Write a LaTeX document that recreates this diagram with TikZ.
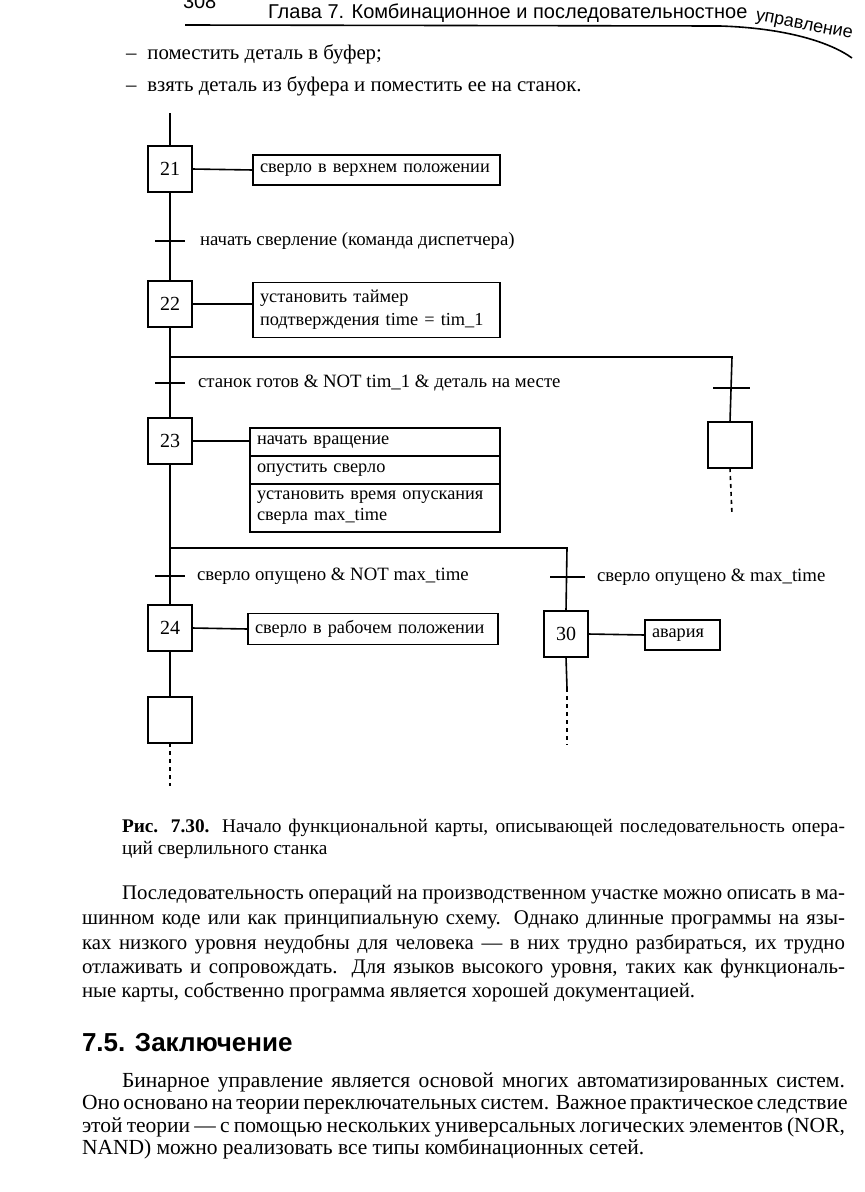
\documentclass[tikz,border=0pt]{standalone}
\usepackage{fontspec}
\setmainfont{Liberation Serif}
\setsansfont{Liberation Sans}
\begin{document}
\begin{tikzpicture}[x=1pt,y=-1pt,
  every node/.style={inner sep=0pt,outer sep=0pt},
  lw/.style={line width=1.6pt},
  stepbox/.style={draw,line width=1.6pt,minimum width=44pt,minimum height=46pt,font=\fontsize{20}{22}\selectfont},
  actbox/.style={draw,line width=1.6pt,anchor=west,inner xsep=7pt,inner ysep=3pt,align=left,font=\fontsize{18.3}{23}\selectfont},
  lbl/.style={anchor=west,font=\fontsize{18.8}{22}\selectfont},
  txt/.style={anchor=base west,font=\fontsize{20.8}{24}\selectfont},
  txtb/.style={anchor=base west,font=\fontsize{21.5}{24}\selectfont},
  captxt/.style={anchor=base west,font=\fontsize{19.3}{21}\selectfont},
  dots/.style={line width=1.6pt,dash pattern=on 4pt off 4pt}
]
\fill[white] (0,0) rectangle (865,1192);
\useasboundingbox (0,0) rectangle (865,1192);

% header
\node[anchor=base west,font=\sffamily\fontsize{20}{24}\selectfont] (pg) at (183,8) {308};
\node[anchor=base west,font=\sffamily\fontsize{20}{24}\selectfont] (hd) at (268,18) {Глава 7. Комбинационное и последовательностное};
\node[anchor=base west,rotate=-11,font=\sffamily\fontsize{18}{22}\selectfont] (hd2) at (755,20) {управление};
\draw[line width=1.6pt] (185,25) -- (720,26) .. controls (785,28) and (830,42) .. (852,58);

% bullets
\node[txt] (b1) at (126,59) {–\hspace{11pt}поместить деталь в буфер;};
\node[txt] (b2) at (126,91) {–\hspace{11pt}взять деталь из буфера и поместить ее на станок.};

% ---------------- diagram
\coordinate (top) at (170,113);
\node[stepbox] (s21) at (170,169) {21};
\node[actbox,text width=233pt,minimum height=30pt] (a21) at (253,170) {сверло в верхнем положении};
\coordinate (t1) at (170,241);
\node[lbl] (l1) at (200,241) {начать сверление (команда диспетчера)};
\node[stepbox] (s22) at (170,304) {22};
\node[actbox,text width=233pt,minimum height=55pt] (a22) at (253,310) {установить таймер\\подтверждения time = tim\_1};
\coordinate (d1) at (170,357);
\coordinate (d1r) at (732,357);
\coordinate (t2) at (170,383);
\node[lbl] (l2) at (198,383) {станок готов \& NOT tim\_1 \& деталь на месте};
\coordinate (t2r) at (732,388);
\node[stepbox] (sR) at (730,445) {};
\coordinate (eR) at (732,515);

\node[stepbox] (s23) at (170,441) {23};
\node[actbox,text width=236pt,minimum height=28pt] (a23a) at (250,442) {начать вращение};
\node[actbox,text width=236pt,minimum height=28pt,anchor=north west] (a23b) at (a23a.south west) {опустить сверло};
\node[actbox,text width=236pt,minimum height=48pt,anchor=north west,font=\fontsize{18.3}{21}\selectfont] (a23c) at (a23b.south west) {установить время опускания\\сверла max\_time};

\coordinate (d2) at (170,548);
\coordinate (d2r) at (567,548);
\coordinate (t3) at (170,576);
\node[lbl] (l3) at (197,576) {сверло опущено \& NOT max\_time};
\coordinate (t3r) at (567,577);
\node[lbl] (l4) at (597,577) {сверло опущено \& max\_time};

\node[stepbox] (s24) at (170,628) {24};
\node[actbox,text width=236pt,minimum height=31pt] (a24) at (248,629) {сверло в рабочем положении};
\node[stepbox] (s25) at (170,720) {};
\coordinate (e25) at (170,786);

\node[stepbox] (s30) at (566,634) {30};
\node[actbox,text width=61pt,minimum height=30pt] (a30) at (645,635) {авария};
\coordinate (m30) at (567,688);
\coordinate (e30) at (567,745);

% connectors
\draw[lw] (top) -- (s21.north);
\draw[lw] (s21.east) -- (a21.west);
\draw[lw] (s21.south) -- (s22.north);
\draw[lw] ([xshift=-15pt]t1) -- ([xshift=15pt]t1);
\draw[lw] (s22.east) -- (a22.west |- s22.east);
\draw[lw] (s22.south) -- (s23.north);
\draw[lw] (d1) -- (d1r) -- (sR.north);
\draw[lw] ([xshift=-15pt]t2) -- ([xshift=15pt]t2);
\draw[lw] ([xshift=-19pt]t2r) -- ([xshift=18pt]t2r);
\draw[dots] (sR.south) -- (eR);
\draw[lw] (s23.east) -- (a23a.west |- s23.east);
\draw[lw] (s23.south) -- (s24.north);
\draw[lw] (d2) -- (d2r) -- (s30.north);
\draw[lw] ([xshift=-15pt]t3) -- ([xshift=15pt]t3);
\draw[lw] ([xshift=-17pt]t3r) -- ([xshift=18pt]t3r);
\draw[lw] (s24.east) -- (a24.west);
\draw[lw] (s24.south) -- (s25.north);
\draw[dots] (s25.south) -- (e25);
\draw[lw] (s30.east) -- (a30.west);
\draw[lw] (s30.south) -- (m30);
\draw[dots] (m30) -- (e30);

% caption
\node[captxt] (c1) at (122,832) {\makebox[723pt][s]{\textbf{Рис. 7.30.} Начало функциональной карты, описывающей последовательность опера-}};
\node[captxt] (c2) at (122,854) {ций сверлильного станка};

% paragraph 1
\node[txt] (p1) at (122,899) {\makebox[723pt][s]{Последовательность операций на производственном участке можно описать в ма-}};
\node[txt] (p2) at (82,924) {\makebox[763pt][s]{шинном коде или как принципиальную схему. Однако длинные программы на язы-}};
\node[txt] (p3) at (82,949) {\makebox[763pt][s]{ках низкого уровня неудобны для человека — в них трудно разбираться, их трудно}};
\node[txt] (p4) at (82,973) {\makebox[763pt][s]{отлаживать и сопровождать. Для языков высокого уровня, таких как функциональ-}};
\node[txt] (p5) at (82,997) {ные карты, собственно программа является хорошей документацией.};

% heading
\node[anchor=base west,font=\sffamily\bfseries\fontsize{26}{30}\selectfont] (h) at (82,1051) {7.5. Заключение};

% paragraph 2
\node[txtb] (q1) at (122,1087) {\makebox[723pt][s]{Бинарное управление является основой многих автоматизированных систем.}};
\node[txtb] (q2) at (82,1109) {\makebox[763pt][s]{Оно основано на теории переключательных систем. Важное практическое следствие}};
\node[txtb] (q3) at (82,1132) {\makebox[763pt][s]{этой теории — с помощью нескольких универсальных логических элементов (NOR,}};
\node[txtb] (q4) at (82,1154) {NAND) можно реализовать все типы комбинационных сетей.};
\end{tikzpicture}
\end{document}
